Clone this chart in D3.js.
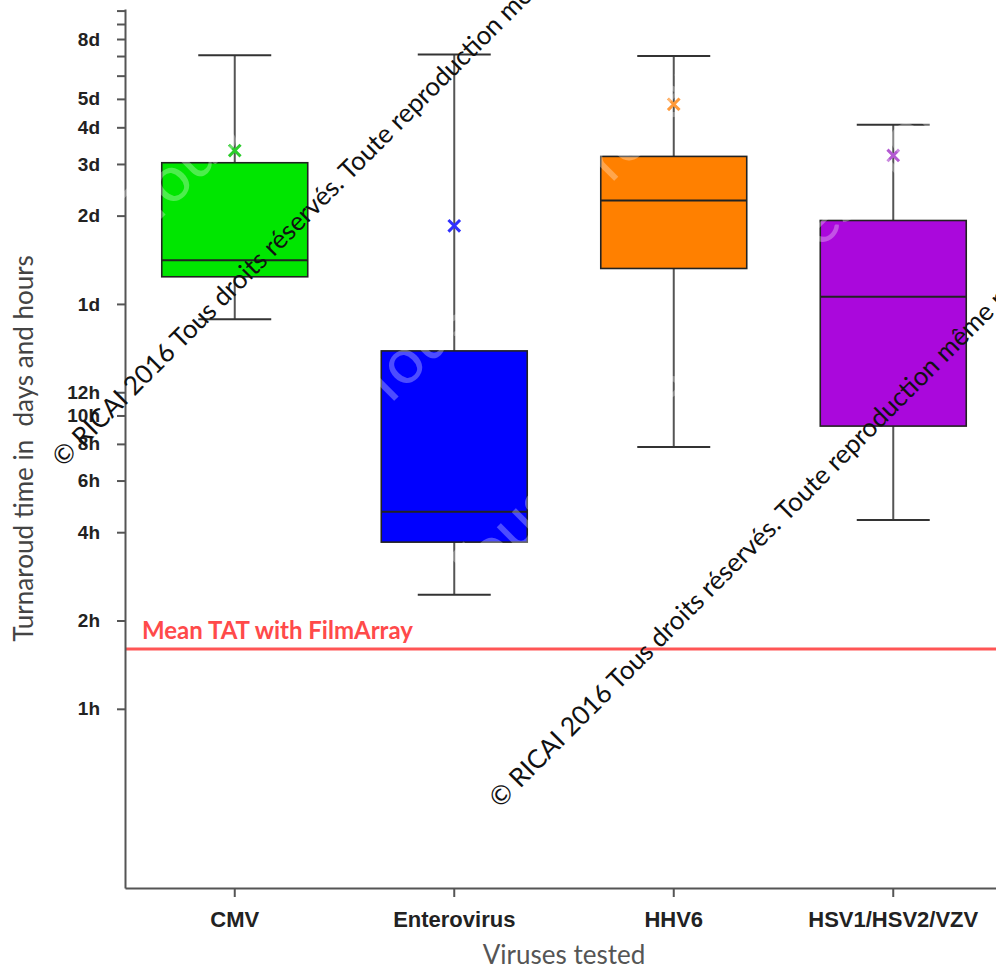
<!DOCTYPE html>
<html>
<head>
<meta charset="utf-8">
<script src="https://cdn.jsdelivr.net/npm/d3@7"></script>
<style>
  body { margin: 0; background: #fff; }
  svg { display: block; }
</style>
</head>
<body>
<div id="chart"></div>
<script>
// Data (hours)
const categories = ["CMV", "Enterovirus", "HHV6", "HSV1/HSV2/VZV"];
const whiskerLow = [21.3, 2.45, 7.8, 4.4];
const q1 = [29.7, 3.7, 31.7, 9.2];
const median = [33.8, 4.7, 54, 25.4];
const q3 = [72.7, 16.6, 76.4, 46.2];
const whiskerHigh = [169, 170, 168, 98];
const means = [80, 44.3, 115, 77];
const meanTAT = 1.6;

const tickHours = [1, 2, 4, 6, 8, 10, 12, 24, 48, 72, 96, 120, 144, 168, 192, 216, 240];
const tickLabels = ["1h", "2h", "4h", "6h", "8h", "10h", "12h", "1d", "2d", "3d", "4d", "5d", "", "", "8d", "", ""];

const boxColors = ["#00e600", "#0000ff", "#ff8000", "#aa08dc"];
const meanColors = ["#2ccc2c", "#3030ff", "#ff9a3a", "#b45ad2"];

const watermark = "© RICAI 2016 Tous droits réservés. Toute reproduction même partielle interdite";
const watermarkFaint = "Tous droits réservés. Toute reproduction même partielle interdite";

function createBoxPlot(selector) {
    const width = 996, height = 970;
    const left = 125, right = 1003, top = 9, bottom = 888;

    const svg = d3.select(selector)
        .append("svg")
        .attr("width", width)
        .attr("height", height);

    // Scales
    const x = d3.scaleBand()
        .domain(categories)
        .range([left, right])
        .padding(0);

    const y = d3.scaleLog()
        .domain([0.245, 243])
        .range([bottom, top]);

    const boxW = x.bandwidth() * 0.665;
    const capW = boxW / 2;
    const cx = i => x(categories[i]) + x.bandwidth() / 2;

    const data = categories.map((c, i) => ({i, c}));

    // Whiskers
    svg.selectAll(".whisker")
        .data(data)
        .join("line")
        .attr("x1", d => cx(d.i))
        .attr("x2", d => cx(d.i))
        .attr("y1", d => y(whiskerLow[d.i]))
        .attr("y2", d => y(whiskerHigh[d.i]))
        .attr("stroke", "#555")
        .attr("stroke-width", 2);

    svg.selectAll(".cap-hi")
        .data(data)
        .join("line")
        .attr("x1", d => cx(d.i) - capW / 2)
        .attr("x2", d => cx(d.i) + capW / 2)
        .attr("y1", d => y(whiskerHigh[d.i]))
        .attr("y2", d => y(whiskerHigh[d.i]))
        .attr("stroke", "#333")
        .attr("stroke-width", 2);

    svg.selectAll(".cap-lo")
        .data(data)
        .join("line")
        .attr("x1", d => cx(d.i) - capW / 2)
        .attr("x2", d => cx(d.i) + capW / 2)
        .attr("y1", d => y(whiskerLow[d.i]))
        .attr("y2", d => y(whiskerLow[d.i]))
        .attr("stroke", "#333")
        .attr("stroke-width", 2);

    // Boxes
    svg.selectAll(".box")
        .data(data)
        .join("rect")
        .attr("x", d => cx(d.i) - boxW / 2)
        .attr("y", d => y(q3[d.i]))
        .attr("width", boxW)
        .attr("height", d => y(q1[d.i]) - y(q3[d.i]))
        .attr("fill", d => boxColors[d.i])
        .attr("stroke", "#222")
        .attr("stroke-width", 1.6);

    svg.selectAll(".median")
        .data(data)
        .join("line")
        .attr("x1", d => cx(d.i) - boxW / 2)
        .attr("x2", d => cx(d.i) + boxW / 2)
        .attr("y1", d => y(median[d.i]))
        .attr("y2", d => y(median[d.i]))
        .attr("stroke", "#222")
        .attr("stroke-width", 2);

    // Mean markers
    svg.selectAll(".mean")
        .data(data)
        .join("path")
        .attr("transform", d => `translate(${cx(d.i)},${y(means[d.i])})`)
        .attr("d", d3.symbol(d3.symbolX, 90))
        .attr("fill", "none")
        .attr("stroke", d => meanColors[d.i])
        .attr("stroke-width", 3);

    // Mean TAT line
    svg.append("line")
        .attr("x1", left)
        .attr("x2", width)
        .attr("y1", y(meanTAT))
        .attr("y2", y(meanTAT))
        .attr("stroke", "#ff5555")
        .attr("stroke-width", 3);

    svg.append("text")
        .attr("x", 142)
        .attr("y", y(meanTAT) - 10)
        .attr("font-family", "Lato, sans-serif")
        .attr("font-weight", "bold")
        .attr("font-size", "24px")
        .attr("fill", "#ff4a4a")
        .text("Mean TAT with FilmArray");

    // Y axis
    const yAxis = svg.append("g")
        .attr("transform", `translate(${left},0)`)
        .call(d3.axisLeft(y)
            .tickValues(tickHours)
            .tickFormat((d, i) => tickLabels[i])
            .tickSize(8)
            .tickPadding(17)
            .tickSizeOuter(0));
    yAxis.selectAll("text")
        .attr("font-family", "'Liberation Sans', Arial, sans-serif")
        .attr("font-weight", "bold")
        .attr("font-size", "19px")
        .attr("fill", "#222");

    // X axis
    const xAxis = svg.append("g")
        .attr("transform", `translate(0,${bottom})`)
        .call(d3.axisBottom(x)
            .tickSize(9)
            .tickPadding(14)
            .tickSizeOuter(0));
    xAxis.selectAll("text")
        .attr("font-family", "'Liberation Sans', Arial, sans-serif")
        .attr("font-weight", "bold")
        .attr("font-size", "22px")
        .attr("fill", "#222");

    svg.selectAll(".domain, .tick line")
        .attr("stroke", "#555")
        .attr("stroke-width", 2);

    // Axis titles
    svg.append("text")
        .attr("transform", `translate(33,${(top + bottom) / 2}) rotate(-90)`)
        .attr("text-anchor", "middle")
        .attr("font-family", "Lato, sans-serif")
        .attr("font-size", "26px")
        .attr("fill", "#444")
        .style("white-space", "pre")
        .text("Turnaroud time in  days and hours");

    svg.append("text")
        .attr("x", (left + right) / 2)
        .attr("y", 964)
        .attr("text-anchor", "middle")
        .attr("font-family", "Lato, sans-serif")
        .attr("font-size", "26px")
        .attr("fill", "#555")
        .text("Viruses tested");

    // Watermark, faint white layer
    [[383, 412], [470, 600], [150, 230]].forEach(p => {
        svg.append("text")
            .attr("transform", `translate(${p[0]},${p[1]}) rotate(-45)`)
            .attr("font-family", "Lato, sans-serif")
            .attr("font-size", "64px")
            .attr("fill", "#fff")
            .attr("fill-opacity", 0.3)
            .text(watermarkFaint);
    });

    // Watermark, black layer
    [[63, 468], [500, 809]].forEach(p => {
        svg.append("text")
            .attr("transform", `translate(${p[0]},${p[1]}) rotate(-45)`)
            .attr("font-family", "Lato, sans-serif")
            .attr("font-size", "26px")
            .attr("fill", "#111")
            .text(watermark);
    });
}

createBoxPlot("#chart");
</script>
</body>
</html>
